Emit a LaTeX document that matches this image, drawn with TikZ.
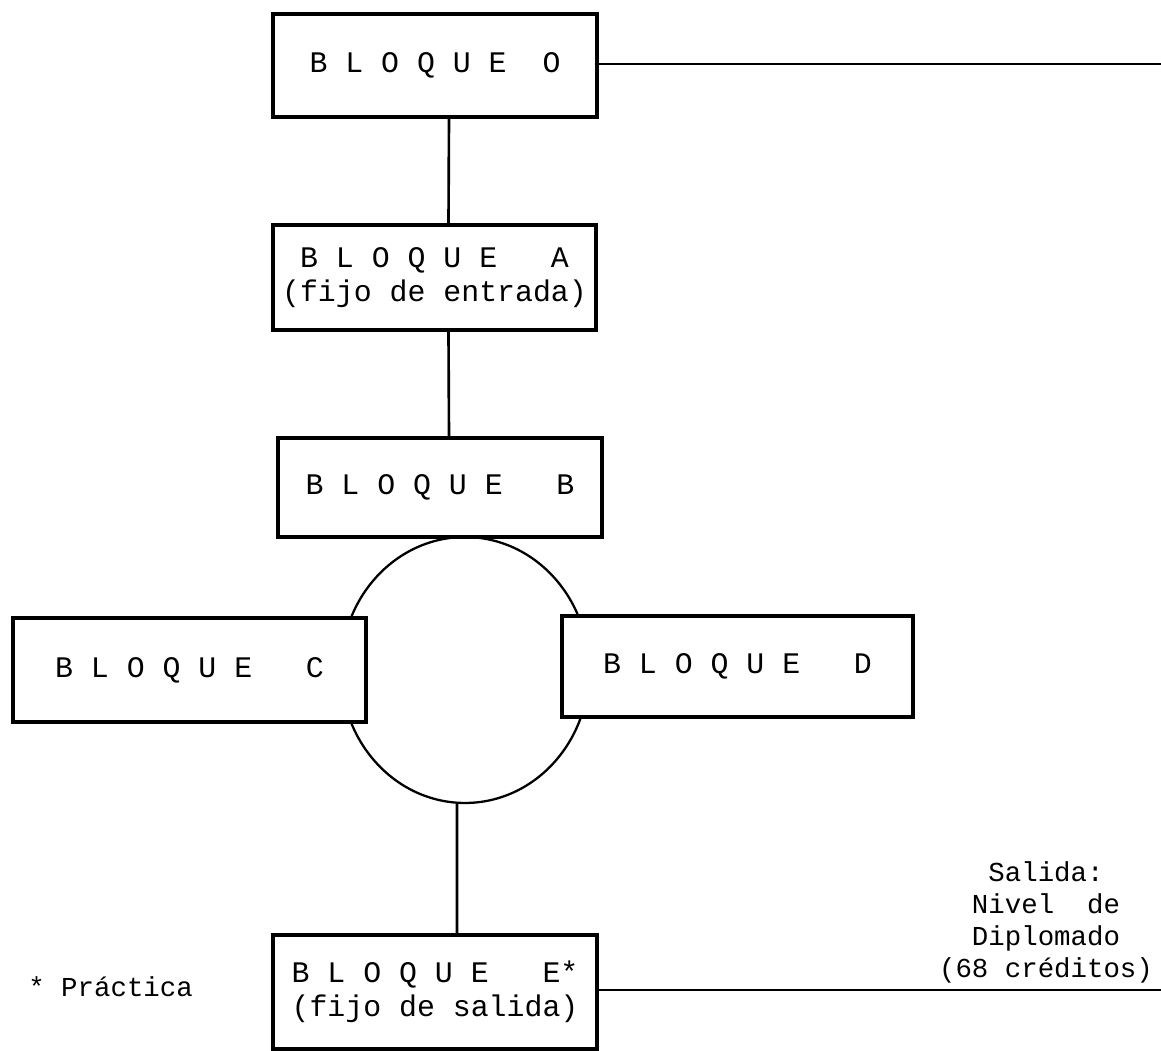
\documentclass[tikz,border=0pt]{standalone}
\usepackage{fontspec}
\newfontfamily\typewriter{Liberation Mono}
\usetikzlibrary{shapes.geometric}
\tikzset{
  bloque/.style={draw, fill=white, line width=2pt, align=center,
                 font=\typewriter\fontsize{17}{19.5}\selectfont, inner sep=0pt},
  enlace/.style={line width=1.5pt},
  anillo/.style={draw, ellipse, line width=1.3pt, inner sep=0pt},
  nota/.style={font=\typewriter\fontsize{15.6}{18.2}\selectfont, align=center, inner sep=0pt},
}
\begin{document}
\begin{tikzpicture}[x=0.02cm, y=-0.02cm]
\useasboundingbox (0,0) rectangle (1161,1051);

% anillo entre los bloques B, C, D
\node[anillo, minimum width=4.96cm, minimum height=5.32cm] (ring) at (465,670) {};

% bloques
\node[bloque, minimum width=6.48cm, minimum height=2.06cm] (O) at (435,65.5)
  {B L O Q U E~~O};
\node[bloque, minimum width=6.46cm, minimum height=2.10cm] (A) at (434.5,277.5)
  {B L O Q U E~~~A\\(fijo de entrada)};
\node[bloque, minimum width=6.48cm, minimum height=1.98cm] (B) at (440,487.5)
  {B L O Q U E~~~B};
\node[bloque, minimum width=7.06cm, minimum height=2.08cm] (C) at (189.5,670)
  {B L O Q U E~~~C};
\node[bloque, minimum width=7.02cm, minimum height=2.02cm] (D) at (737.5,666.5)
  {B L O Q U E~~~D};
\node[bloque, minimum width=6.48cm, minimum height=2.28cm] (E) at (435,992)
  {B L O Q U E~~~E*\\(fijo de salida)};

% salidas a la derecha
\coordinate (outO) at (1161,64);
\coordinate (outE) at (1161,990);
\node[nota] (salida) at (1046,922) {Salida:\\Nivel~~de\\Diplomado\\(68 créditos)};
\node[nota, anchor=west] (practica) at (28,987) {* Práctica};

% conexiones
\draw[enlace] (O.east |- outO) -- (outO);
\draw[enlace] (E.east |- outE) -- (outE);
\draw[enlace] ([xshift=0.28cm]O.south) -- ([xshift=0.28cm]A.north);
\draw[enlace] ([xshift=0.28cm]A.south) -- ([xshift=0.18cm]B.north);
\draw[enlace] ([xshift=-0.16cm]ring.south) -- ([xshift=0.44cm]E.north);
\end{tikzpicture}
\end{document}
